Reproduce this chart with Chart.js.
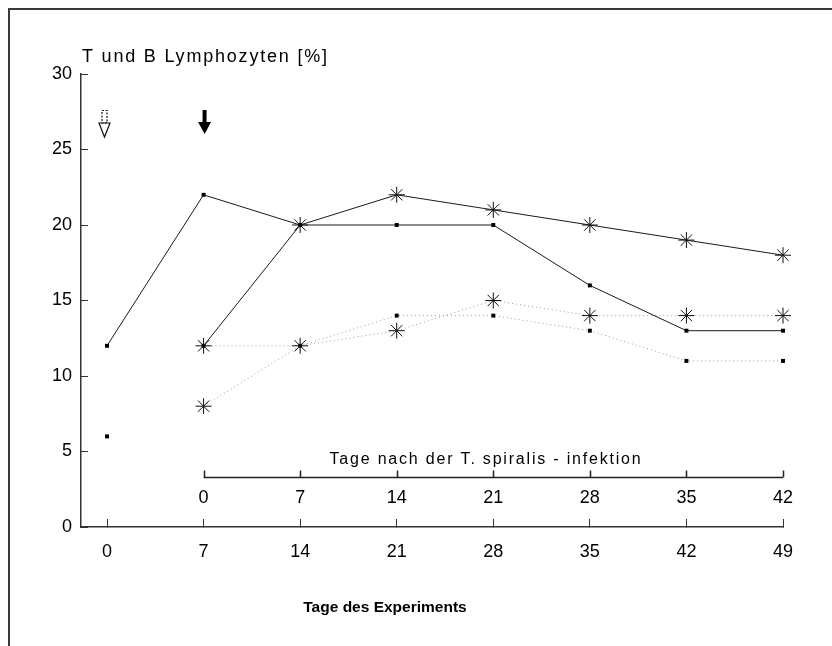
<!DOCTYPE html>
<html>
<head>
<meta charset="utf-8">
<script src="https://cdn.jsdelivr.net/npm/chart.js@4"></script>
<style>
  body { margin: 0; background: #fff; }
  .wrap { position: relative; width: 832px; height: 646px; }
  .frameTop { position: absolute; left: 8px; top: 8px; width: 824px; height: 2px; background: #3a3a3a; }
  .frameLeft { position: absolute; left: 8px; top: 8px; width: 2px; height: 638px; background: #3a3a3a; }
</style>
</head>
<body>
<div class="wrap">
  <canvas id="lymphChart" width="832" height="646"></canvas>
  <div class="frameTop"></div>
  <div class="frameLeft"></div>
</div>
<script>
// data
const days = [0, 7, 14, 21, 28, 35, 42, 49];
const tSquares = [12, 22, 20, 20, 20, 16, 13, 13];       // solid line, small squares
const tStars = [null, 12, 20, 22, 21, 20, 19, 18];       // solid line, asterisks
const bStars = [null, 8, 12, 13, 15, 14, 14, 14];        // dotted line, asterisks
const bSquares = [6, 12, 12, 14, 14, 13, 11, 11];        // dotted line, small squares
const yTicks = [0, 5, 10, 15, 20, 25, 30];
const infTicks = [0, 7, 14, 21, 28, 35, 42];
const infStart = 7; // day of T. spiralis infection in experiment days

const FONT = "'Liberation Sans', Arial, Helvetica, sans-serif";

function pts(values) {
  return days.map((d, i) => ({ x: d, y: values[i] }));
}

// extra drawing: title, second day axis, arrows
const extras = {
  id: 'extras',
  afterDraw(chart) {
    const ctx = chart.ctx;
    const xs = chart.scales.x;
    const ys = chart.scales.y;
    ctx.save();
    ctx.fillStyle = '#000';
    ctx.strokeStyle = '#222';

    // y title
    ctx.font = '18px ' + FONT;
    ctx.letterSpacing = '1.8px';
    ctx.textAlign = 'left';
    ctx.textBaseline = 'alphabetic';
    ctx.fillText('T und B Lymphozyten [%]', chart.chartArea.left + 1, 62);

    // second axis: days after infection
    const lineY = Math.round(ys.getPixelForValue(3.3)) + 0.5;
    const x0 = xs.getPixelForValue(infStart + infTicks[0]);
    const x1 = xs.getPixelForValue(infStart + infTicks[infTicks.length - 1]);
    ctx.lineWidth = 1.5;
    ctx.beginPath();
    ctx.moveTo(x0, lineY);
    ctx.lineTo(x1, lineY);
    infTicks.forEach(t => {
      const px = Math.round(xs.getPixelForValue(infStart + t)) + 0.5;
      ctx.moveTo(px, lineY);
      ctx.lineTo(px, lineY - 7);
    });
    ctx.stroke();

    ctx.font = '18px ' + FONT;
    ctx.letterSpacing = '0px';
    ctx.textAlign = 'center';
    ctx.textBaseline = 'middle';
    infTicks.forEach(t => {
      ctx.fillText(String(t), xs.getPixelForValue(infStart + t), lineY + 21);
    });

    ctx.font = '16px ' + FONT;
    ctx.letterSpacing = '1.8px';
    ctx.textBaseline = 'alphabetic';
    ctx.fillText('Tage nach der T. spiralis - infektion', 486, lineY - 14);

    // x title
    ctx.letterSpacing = '0px';
    ctx.font = 'bold 15.5px ' + FONT;
    ctx.fillText('Tage des Experiments', 385, 612);

    // hollow dashed arrow at day 0
    const ax0 = xs.getPixelForValue(days[0]) - 2.5;
    ctx.lineWidth = 1.2;
    ctx.strokeStyle = '#111';
    ctx.setLineDash([2, 1.5]);
    ctx.strokeRect(ax0 - 2.5, 110.5, 5, 12.5);
    ctx.setLineDash([]);
    ctx.beginPath();
    ctx.moveTo(ax0 - 5.5, 123);
    ctx.lineTo(ax0 + 5.5, 123);
    ctx.lineTo(ax0, 137);
    ctx.closePath();
    ctx.stroke();

    // solid arrow at infection day
    const ax1 = xs.getPixelForValue(infStart) + 1;
    ctx.fillStyle = '#000';
    ctx.fillRect(ax1 - 2, 110, 4, 13);
    ctx.beginPath();
    ctx.moveTo(ax1 - 6.5, 122);
    ctx.lineTo(ax1 + 6.5, 122);
    ctx.lineTo(ax1, 134);
    ctx.closePath();
    ctx.fill();

    ctx.restore();
  }
};

const solid = '#1a1a1a';
const dotted = '#9a9a9a';

const ctx = document.getElementById('lymphChart').getContext('2d');
const lymphChart = new Chart(ctx, {
  type: 'line',
  data: {
    datasets: [
      {
        label: 'T squares',
        data: pts(tSquares),
        clip: false,
        borderColor: solid,
        borderWidth: 1,
        pointStyle: 'rect',
        pointRadius: 2.8,
        pointBackgroundColor: '#000',
        pointBorderColor: '#000',
        pointBorderWidth: 0
      },
      {
        label: 'T stars',
        data: pts(tStars),
        clip: false,
        borderColor: solid,
        borderWidth: 1,
        pointStyle: 'star',
        pointRadius: 8,
        pointBorderColor: '#111',
        pointBorderWidth: 1
      },
      {
        label: 'B stars',
        data: pts(bStars),
        clip: false,
        borderColor: dotted,
        borderWidth: 1,
        borderDash: [1, 3],
        pointStyle: 'star',
        pointRadius: 8,
        pointBorderColor: '#111',
        pointBorderWidth: 1
      },
      {
        label: 'B squares',
        data: pts(bSquares),
        clip: false,
        borderColor: dotted,
        borderWidth: 1,
        borderDash: [1, 3],
        // first point stands alone in the figure
        segment: {
          borderColor: c => c.p0DataIndex === 0 ? 'rgba(0,0,0,0)' : undefined
        },
        pointStyle: 'rect',
        pointRadius: 2.8,
        pointBackgroundColor: '#000',
        pointBorderColor: '#000',
        pointBorderWidth: 0
      }
    ]
  },
  options: {
    responsive: false,
    devicePixelRatio: 1,
    animation: false,
    spanGaps: false,
    layout: { padding: { left: 0, top: 74, right: 49, bottom: 0 } },
    plugins: {
      legend: { display: false },
      tooltip: { enabled: false }
    },
    scales: {
      x: {
        type: 'linear',
        min: -1.885,
        max: 49,
        afterBuildTicks: s => { s.ticks = days.map(v => ({ value: v })); },
        afterFit: s => { s.height = 119; },
        border: { color: '#333', width: 1.5 },
        grid: { drawOnChartArea: false, tickLength: -8, color: '#333', lineWidth: 1 },
        ticks: {
          padding: 22,
          color: '#000',
          font: { family: FONT, size: 18 },
          maxRotation: 0
        }
      },
      y: {
        min: 0,
        max: 30,
        afterBuildTicks: s => { s.ticks = yTicks.map(v => ({ value: v })); },
        afterFit: s => { s.width = 81; },
        border: { color: '#333', width: 1.5 },
        grid: { drawOnChartArea: false, tickLength: -7, color: '#333', lineWidth: 1 },
        ticks: {
          padding: 16,
          color: '#000',
          font: { family: FONT, size: 18 }
        }
      }
    }
  },
  plugins: [extras]
});
</script>
</body>
</html>
